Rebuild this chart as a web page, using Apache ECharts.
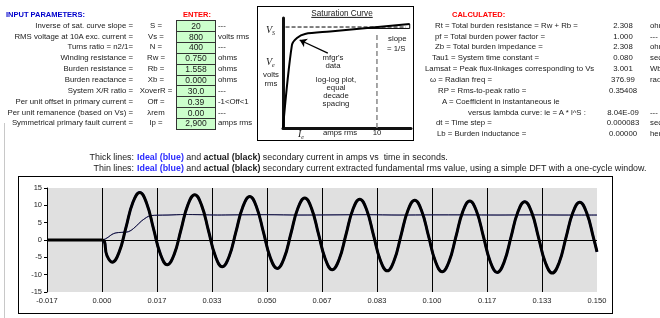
<!DOCTYPE html>
<html>
<head>
<meta charset="utf-8">
<script src="https://cdn.jsdelivr.net/npm/echarts@6.0.0/dist/echarts.min.js"></script>
<style>
  html, body { margin: 0; padding: 0; background: #fff; }
  #page { position: relative; width: 660px; height: 318px; overflow: hidden; font-family: "Liberation Sans", Arial, sans-serif; color: #1a1a1a; }
  #chart { position: absolute; left: 0; top: 0; width: 660px; height: 318px; }
  .t { position: absolute; white-space: nowrap; font-size: 7.8px; line-height: 1; }
  .frame { position: absolute; border: 1px solid #000; box-sizing: border-box; }
  .cell { position: absolute; background: #ccffcc; border: 1px solid #333; box-sizing: border-box; }
  .blue { color: #2b2bff; font-weight: bold; }
  .serif { font-family: "Liberation Serif", "DejaVu Serif", serif; font-style: italic; font-size: 10px; }
  .serif sub { font-size: 6px; vertical-align: -2px; }
</style>
</head>
<body>
<div id="page">
  <div style="position:absolute;left:4px;top:123px;width:1px;height:195px;background:#c8c8c8"></div>
  <div class="frame" style="left:18px;top:176px;width:595px;height:138px"></div>
  <div class="frame" style="left:257px;top:6px;width:157px;height:135px;border-width:1.5px"></div>
  <div id="cells"></div>
  <div id="chart"></div>
  <div id="txt"></div>
</div>
<script>
// ---- spreadsheet part ----
var inLabels = ['Inverse of sat. curve slope =', 'RMS voltage at 10A exc. current =', 'Turns ratio = n2/1=',
  'Winding resistance =', 'Burden resistance =', 'Burden reactance =', 'System X/R ratio =',
  'Per unit offset in primary current =', 'Per unit remanence (based on Vs) =', 'Symmetrical primary fault current ='];
var inSymbols = ['S =', 'Vs =', 'N =', 'Rw =', 'Rb =', 'Xb =', 'XoverR =', 'Off =', '\u03bbrem', 'Ip ='];
var inValues = ['20', '800', '400', '0.750', '1.558', '0.000', '30.0', '0.39', '0.00', '2,900'];
var inUnits = ['---', 'volts rms', '---', 'ohms', 'ohms', 'ohms', '---', '-1<Off<1', '---', 'amps rms'];

var calcLabels = ['Rt = Total burden resistance = Rw + Rb =', 'pf = Total burden power factor =',
  'Zb = Total burden impedance =', 'Tau1 = System time constant =', 'Lamsat = Peak flux-linkages corresponding to Vs',
  '\u03c9 = Radian freq =', 'RP = Rms-to-peak ratio =', 'A = Coefficient in instantaneous ie',
  'versus lambda curve: ie = A * l^S :', 'dt = Time step =', 'Lb = Burden inductance ='];
var calcLabelX = [435, 435, 435, 432, 425, 430, 438, 442, 468, 436, 437];
var calcValues = ['2.308', '1.000', '2.308', '0.080', '3.001', '376.99', '0.35408', '', '8.04E-09', '0.000083', '0.00000'];
var calcUnits = ['ohms', '---', 'ohms', 'sec', 'Wb-turns', 'rad/sec', '', '', '---', 'sec', 'henries'];

// ---- chart data ----
// thick lines: secondary current in amps vs time in seconds (ideal and actual overlap on this run)
var tWave = [-0.01667, 0, 0.0015,
  0.00310, 0.00519, 0.00727, 0.00935, 0.01144, 0.01352, 0.01560, 0.01769,
  0.01977, 0.02185, 0.02394, 0.02602, 0.02810, 0.03019, 0.03227, 0.03435,
  0.03644, 0.03852, 0.04060, 0.04269, 0.04477, 0.04685, 0.04894, 0.05102,
  0.05310, 0.05519, 0.05727, 0.05935, 0.06144, 0.06352, 0.06560, 0.06769,
  0.06977, 0.07185, 0.07394, 0.07602, 0.07810, 0.08019, 0.08227, 0.08435,
  0.08644, 0.08852, 0.09060, 0.09269, 0.09477, 0.09685, 0.09894, 0.10102,
  0.10310, 0.10519, 0.10727, 0.10935, 0.11144, 0.11352, 0.11560, 0.11769,
  0.11977, 0.12185, 0.12394, 0.12602, 0.12810, 0.13019, 0.13227, 0.13435,
  0.13644, 0.13852, 0.14060, 0.14269, 0.14477, 0.14685, 0.14894, 0.15000];
var iActual = [0, 0, -4.51,
  -6.41, -3.50, 3.65, 10.81, 13.72, 10.62, 3.29, -4.04,
  -7.13, -4.21, 2.96, 10.14, 13.06, 9.99, 2.67, -4.65,
  -7.71, -4.78, 2.41, 9.59, 12.54, 9.47, 2.17, -5.14,
  -8.19, -5.24, 1.95, 9.15, 12.11, 9.06, 1.76, -5.53,
  -8.58, -5.62, 1.59, 8.79, 11.76, 8.72, 1.43, -5.86,
  -8.89, -5.93, 1.29, 8.50, 11.47, 8.44, 1.16, -6.12,
  -9.15, -6.17, 1.05, 8.27, 11.24, 8.22, 0.94, -6.33,
  -9.36, -6.38, 0.85, 8.08, 11.06, 8.03, 0.77, -6.50,
  -9.52, -6.54, 0.69, 7.92, 10.91, 7.89, 0.62, -3.42];
var iIdeal = iActual;

// thin lines: fundamental rms from a one-cycle DFT
var tRms = [0, 0.001, 0.002, 0.003, 0.004, 0.005, 0.006, 0.007, 0.008, 0.009, 0.010,
  0.011, 0.012, 0.013, 0.014, 0.015, 0.0167, 0.020, 0.025, 0.030, 0.035, 0.040, 0.050,
  0.060, 0.070, 0.080, 0.090, 0.100, 0.110, 0.120, 0.130, 0.140, 0.150];
var rmsActual = [0, 0.3, 0.9, 1.6, 2.0, 2.15, 2.2, 2.25, 2.4, 2.9, 3.7,
  4.6, 5.5, 6.2, 6.8, 7.05, 7.15, 7.2, 7.35, 7.3, 7.2, 7.25, 7.3,
  7.2, 7.25, 7.3, 7.2, 7.25, 7.25, 7.2, 7.25, 7.2, 7.2];
var rmsIdeal = rmsActual;

var xTickLabels = ['-0.017', '0.000', '0.017', '0.033', '0.050', '0.067', '0.083', '0.100', '0.117', '0.133', '0.150'];

// saturation-curve sketch (log-log, arbitrary 0..100 units)
var satX = [0, 7, 10.9, 17.2, 36.7, 99];
var satY = [0, 75.5, 81.8, 85.5, 87.7, 94.5];
var vsLineX = [2, 96], vsLineY = [91.8, 91.8];
var tenAmpX = [73.4, 73.4], tenAmpY = [0, 86];
var slopeX = [62, 99, 99], slopeY = [90.5, 90.5, 94.5];

function pairs(xs, ys) { return xs.map(function (x, i) { return [x, ys[i]]; }); }

var txt = document.getElementById('txt');
function put(html, x, y, opt) {
  opt = opt || {};
  var d = document.createElement('div');
  d.className = 't';
  d.innerHTML = html;
  d.style.left = x + 'px';
  d.style.top = y + 'px';
  var tx = opt.align === 'right' ? '-100%' : (opt.align === 'center' ? '-50%' : '0');
  d.style.transform = 'translate(' + tx + ',-50%)';
  if (opt.size) d.style.fontSize = opt.size + 'px';
  if (opt.color) d.style.color = opt.color;
  if (opt.bold) d.style.fontWeight = 'bold';
  (opt.parent || txt).appendChild(d);
  return d;
}
function esc(s) { return s.replace(/&/g, '&amp;').replace(/</g, '&lt;').replace(/>/g, '&gt;'); }

var rowH = 10.85, row0 = 25.7;
put('INPUT PARAMETERS:', 6, 15, {bold: true, color: '#0000cc', size: 7.5});
put('ENTER:', 183, 15, {bold: true, color: '#ff0000', size: 7.5});
var cells = document.getElementById('cells');
inLabels.forEach(function (s, i) {
  var y = row0 + i * rowH;
  put(esc(s), 133, y, {align: 'right'});
  put(esc(inSymbols[i]), 156, y, {align: 'center'});
  var c = document.createElement('div');
  c.className = 'cell';
  c.style.left = '176px'; c.style.top = (y - rowH / 2) + 'px';
  c.style.width = '40px'; c.style.height = (rowH + 1) + 'px';
  cells.appendChild(c);
  put(esc(inValues[i]), 196, y, {align: 'center', size: 8.5});
  put(esc(inUnits[i]), 218, y);
});

put('CALCULATED:', 452, 15, {bold: true, color: '#ff0000', size: 7.5});
calcLabels.forEach(function (s, i) {
  var y = row0 + i * rowH;
  put(esc(s), calcLabelX[i], y);
  if (calcValues[i]) put(esc(calcValues[i]), 623, y, {align: 'center'});
  if (calcUnits[i]) put(esc(calcUnits[i]), 650, y);
});

// saturation box texts
put('<u>Saturation Curve</u>', 342, 13.5, {align: 'center', size: 8.2});
put('<span class="serif">V<sub>S</sub></span>', 266, 30);
put('<span class="serif">V<sub>e</sub></span>', 266, 62);
put('volts', 271, 75, {align: 'center'});
put('rms', 271, 84, {align: 'center'});
put('mfgr\'s', 333, 58, {align: 'center'});
put('data', 333, 66, {align: 'center'});
put('log-log plot,', 336, 80, {align: 'center'});
put('equal', 336, 88, {align: 'center'});
put('decade', 336, 96, {align: 'center'});
put('spacing', 336, 104, {align: 'center'});
put('slope', 388, 39);
put('= 1/S', 387, 49);
put('<span class="serif">I<sub>e</sub></span>', 298, 134);
put('amps rms', 340, 133, {align: 'center'});
put('10', 377, 133, {align: 'center'});

// chart heading lines
put('Thick lines:', 134, 157, {align: 'right', size: 8.9});
put('<span class="blue">Ideal (blue)</span> and <b>actual (black)</b> secondary current in amps vs&nbsp; time in seconds.', 137, 157, {size: 8.9});
put('Thin lines:', 134, 168, {align: 'right', size: 8.9});
put('<span class="blue">Ideal (blue)</span> and <b>actual (black)</b> secondary current extracted fundamental rms value, using a simple DFT with a one-cycle window.', 137, 168, {size: 8.9});

var chart = echarts.init(document.getElementById('chart'));
var hidden = {show: false};
var option = {
  animation: false,
  grid: [
    {left: 47, top: 188, width: 550, height: 104, show: true, backgroundColor: '#e0e0e0', borderWidth: 0},
    {left: 283, top: 18, width: 128, height: 110}
  ],
  xAxis: [
    {
      type: 'value', gridIndex: 0, min: -1 / 60, max: 9 / 60, interval: 1 / 60,
      axisLine: hidden, axisTick: hidden,
      splitLine: {show: true, showMaxLine: false, lineStyle: {color: '#000', width: 1}},
      axisLabel: {
        fontSize: 7.5, color: '#222', margin: 5, fontFamily: 'Liberation Sans',
        formatter: function (v) { return xTickLabels[Math.round(v * 60) + 1] || ''; }
      }
    },
    {
      type: 'value', gridIndex: 1, min: 0, max: 100,
      axisLine: {show: true, lineStyle: {color: '#111', width: 3}},
      axisTick: hidden, axisLabel: hidden, splitLine: hidden
    }
  ],
  yAxis: [
    {
      type: 'value', gridIndex: 0, min: -15, max: 15, interval: 5,
      axisLine: {show: true, onZero: false, lineStyle: {color: '#000', width: 1}},
      axisTick: {show: true, length: 3, lineStyle: {color: '#000'}},
      axisLabel: {fontSize: 7.5, color: '#222', margin: 5, fontFamily: 'Liberation Sans'},
      splitLine: hidden
    },
    {
      type: 'value', gridIndex: 1, min: 0, max: 100,
      axisLine: {show: true, onZero: false, lineStyle: {color: '#111', width: 3}},
      axisTick: hidden, axisLabel: hidden, splitLine: hidden
    }
  ],
  series: [
    {
      name: 'ideal rms', type: 'line', xAxisIndex: 0, yAxisIndex: 0, data: pairs(tRms, rmsIdeal),
      showSymbol: false, smooth: 0.3, lineStyle: {color: '#28288c', width: 1}, silent: true
    },
    {
      name: 'actual rms', type: 'line', xAxisIndex: 0, yAxisIndex: 0, data: pairs(tRms, rmsActual),
      showSymbol: false, smooth: 0.3, lineStyle: {color: '#000', width: 0.8, opacity: 0.75}, silent: true
    },
    {
      name: 'ideal', type: 'line', xAxisIndex: 0, yAxisIndex: 0, data: pairs(tWave, iIdeal),
      showSymbol: false, smooth: 0.45, lineStyle: {color: '#0000ff', width: 2.2}, silent: true
    },
    {
      name: 'actual', type: 'line', xAxisIndex: 0, yAxisIndex: 0, data: pairs(tWave, iActual),
      showSymbol: false, smooth: 0.45, lineStyle: {color: '#000', width: 3}, silent: true,
      markLine: {
        silent: true, symbol: ['none', 'none'], label: hidden,
        lineStyle: {color: '#000', width: 1, type: 'solid'},
        data: [{yAxis: 0}]
      }
    },
    // saturation sketch
    {
      type: 'line', xAxisIndex: 1, yAxisIndex: 1, data: pairs(satX, satY),
      showSymbol: false, smooth: 0.3, lineStyle: {color: '#000', width: 2}, silent: true,
      markLine: {
        silent: true, symbol: ['none', 'arrow'], symbolSize: 7, label: hidden,
        lineStyle: {color: '#000', width: 1.3, type: 'solid'},
        data: [[{coord: [35, 68]}, {coord: [13, 80]}]]
      }
    },
    {
      type: 'line', xAxisIndex: 1, yAxisIndex: 1, data: pairs(vsLineX, vsLineY),
      showSymbol: false, lineStyle: {color: '#000', width: 1, type: [4, 2]}, silent: true
    },
    {
      type: 'line', xAxisIndex: 1, yAxisIndex: 1, data: pairs(tenAmpX, tenAmpY),
      showSymbol: false, lineStyle: {color: '#888', width: 1.5, type: [5, 3]}, silent: true
    },
    {
      type: 'line', xAxisIndex: 1, yAxisIndex: 1, data: pairs(slopeX, slopeY),
      showSymbol: false, lineStyle: {color: '#000', width: 1}, silent: true
    }
  ]
};
chart.setOption(option);
</script>
</body>
</html>
